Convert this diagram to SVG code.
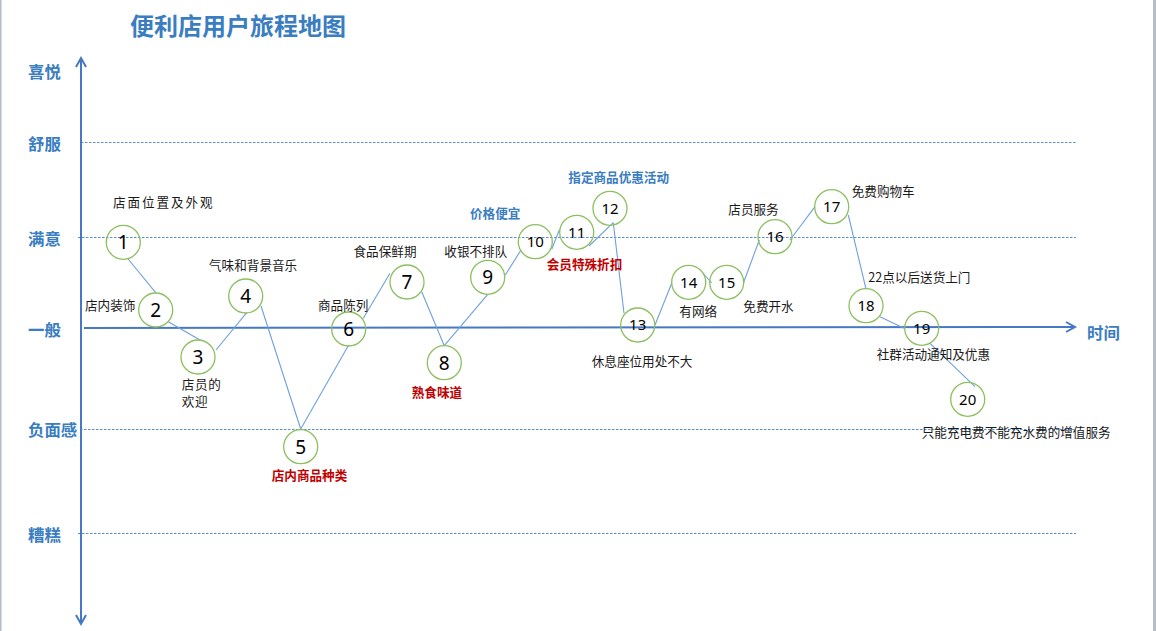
<svg xmlns="http://www.w3.org/2000/svg" width="1156" height="631" viewBox="0 0 1156 631">
<style>
.title{font-family:"Noto Sans CJK SC","Noto Sans",sans-serif;font-size:24px;font-weight:bold;fill:#3A7DC0}
.lvl{font-family:"Noto Sans CJK SC","Noto Sans",sans-serif;font-size:16.4px;font-weight:bold;fill:#3A7DC0}
.lbl{font-family:"Noto Sans CJK SC","Noto Sans",sans-serif;font-size:12.6px;fill:#1a1a1a}
.red{font-family:"Noto Sans CJK SC","Noto Sans",sans-serif;font-size:12.6px;font-weight:bold;fill:#C00000}
.blue{font-family:"Noto Sans CJK SC","Noto Sans",sans-serif;font-size:12.6px;font-weight:bold;fill:#3A7DC0}
.num{font-family:"Noto Sans","Liberation Sans",sans-serif;font-size:19px;fill:#000;text-anchor:middle}
.num2{font-family:"Noto Sans","Liberation Sans",sans-serif;font-size:15px;fill:#000;text-anchor:middle}
.node circle{fill:none;stroke:#8CBF5F;stroke-width:1.3}
.dash{stroke:#5A8FD2;stroke-width:1;stroke-dasharray:2.5 1.5;fill:none}
.axis{stroke:#4678C4;stroke-width:2;fill:none}
.conn line{stroke:#6FA0DC;stroke-width:1.1}
</style>
<rect x="0" y="0" width="1156" height="631" fill="#ffffff"/>
<rect x="0" y="0" width="1.5" height="631" fill="#B8BCC8"/>
<rect x="1153" y="0" width="3" height="631" fill="#B8BCC8"/>

<text class="title" x="130" y="35">便利店用户旅程地图</text>

<g id="levels">
<text class="lvl" x="28" y="78">喜悦</text>
<text class="lvl" x="28" y="150">舒服</text>
<text class="lvl" x="28" y="245">满意</text>
<text class="lvl" x="28" y="336">一般</text>
<text class="lvl" x="28" y="436">负面感</text>
<text class="lvl" x="28" y="541">糟糕</text>
</g>

<g id="gridlines">
<line class="dash" x1="81" y1="142.5" x2="1076" y2="142.5"/>
<line class="dash" x1="78" y1="237.5" x2="1076" y2="237.5"/>
<line class="dash" x1="80" y1="429.5" x2="1076" y2="429.5"/>
<line class="dash" x1="78" y1="533.5" x2="1076" y2="533.5"/>
</g>

<g id="axes">
<line class="axis" x1="81" y1="58" x2="81" y2="624"/>
<polyline class="axis" points="76,67 81,58 86,67"/>
<polyline class="axis" points="76,615 81,624 86,615"/>
<line class="axis" x1="84" y1="328" x2="1075" y2="327"/>
<polyline class="axis" points="1066,322 1075,327 1066,332"/>
<text class="lvl" x="1087" y="339">时间</text>
</g>

<g id="connectors" class="conn">
<line x1="127.7" y1="258.5" x2="155.7" y2="292.7"/>
<line x1="168.3" y1="321.7" x2="200" y2="340"/>
<line x1="216" y1="350" x2="246.7" y2="312.7"/>
<line x1="261" y1="306" x2="300.7" y2="429"/>
<line x1="300.7" y1="429" x2="348.7" y2="345"/>
<line x1="363.3" y1="318.3" x2="390" y2="273.3"/>
<line x1="421.7" y1="291.7" x2="444.3" y2="345.7"/>
<line x1="444.3" y1="345.7" x2="487.7" y2="294.3"/>
<line x1="505.3" y1="275" x2="521" y2="250"/>
<line x1="551.7" y1="249.3" x2="559.3" y2="230"/>
<line x1="589" y1="246" x2="613.3" y2="222.7"/>
<line x1="613.3" y1="222.7" x2="624" y2="313.3"/>
<line x1="655" y1="325" x2="671.7" y2="283.3"/>
<line x1="702" y1="272" x2="711.7" y2="283"/>
<line x1="743.3" y1="283.3" x2="759.3" y2="240"/>
<line x1="790" y1="240" x2="815" y2="206.7"/>
<line x1="848.3" y1="215" x2="866" y2="289"/>
<line x1="880" y1="316.7" x2="904" y2="328.3"/>
<line x1="930" y1="343.3" x2="975" y2="386.7"/>
</g>

<g id="node1" class="node"><circle cx="123.3" cy="242.3" r="17"/><text class="num" x="123.3" y="249.1">1</text></g>
<g id="node2" class="node"><circle cx="155.7" cy="310" r="17"/><text class="num" x="155.7" y="316.8">2</text></g>
<g id="node3" class="node"><circle cx="198" cy="357" r="17"/><text class="num" x="198" y="363.8">3</text></g>
<g id="node4" class="node"><circle cx="245.7" cy="296" r="17"/><text class="num" x="245.7" y="302.8">4</text></g>
<g id="node5" class="node"><circle cx="300.7" cy="446.7" r="17"/><text class="num" x="300.7" y="453.5">5</text></g>
<g id="node6" class="node"><circle cx="348.7" cy="329" r="17"/><text class="num" x="348.7" y="335.8">6</text></g>
<g id="node7" class="node"><circle cx="407" cy="282" r="17"/><text class="num" x="407" y="288.8">7</text></g>
<g id="node8" class="node"><circle cx="444.3" cy="362.7" r="17"/><text class="num" x="444.3" y="369.5">8</text></g>
<g id="node9" class="node"><circle cx="487.7" cy="277.3" r="17"/><text class="num" x="487.7" y="284.1">9</text></g>
<g id="node10" class="node"><circle cx="535.3" cy="241.7" r="17"/><text class="num2" x="535.3" y="247.1">10</text></g>
<g id="node11" class="node"><circle cx="576.7" cy="232.3" r="17"/><text class="num2" x="576.7" y="237.7">11</text></g>
<g id="node12" class="node"><circle cx="610" cy="208.3" r="17"/><text class="num2" x="610" y="213.7">12</text></g>
<g id="node13" class="node"><circle cx="637.7" cy="325" r="17"/><text class="num2" x="637.7" y="330.4">13</text></g>
<g id="node14" class="node"><circle cx="688.7" cy="282.3" r="17"/><text class="num2" x="688.7" y="287.7">14</text></g>
<g id="node15" class="node"><circle cx="726.7" cy="282.3" r="17"/><text class="num2" x="726.7" y="287.7">15</text></g>
<g id="node16" class="node"><circle cx="775" cy="236.7" r="17"/><text class="num2" x="775" y="242.1">16</text></g>
<g id="node17" class="node"><circle cx="831.7" cy="206.7" r="17"/><text class="num2" x="831.7" y="212.1">17</text></g>
<g id="node18" class="node"><circle cx="866" cy="305.7" r="17"/><text class="num2" x="866" y="311.1">18</text></g>
<g id="node19" class="node"><circle cx="921.7" cy="328.3" r="17"/><text class="num2" x="921.7" y="333.7">19</text></g>
<g id="node20" class="node"><circle cx="967.7" cy="399.3" r="17"/><text class="num2" x="967.7" y="404.7">20</text></g>

<g id="labels">
<text class="lbl" x="113" y="206.5" letter-spacing="1.9">店面位置及外观</text>
<text class="lbl" x="209" y="269.8">气味和背景音乐</text>
<text class="lbl" x="85" y="309.8">店内装饰</text>
<text class="lbl" x="318" y="309.8">商品陈列</text>
<text class="lbl" x="353.5" y="255.5">食品保鲜期</text>
<text class="lbl" x="181.7" y="389.2" font-size="11.6" letter-spacing="0.7">店员的</text>
<text class="lbl" x="181.7" y="406.2" font-size="11.6" letter-spacing="0.7">欢迎</text>
<text class="red" x="271.7" y="479.8">店内商品种类</text>
<text class="red" x="411.7" y="396.5">熟食味道</text>
<text class="lbl" x="444.3" y="255.5">收银不排队</text>
<text class="blue" x="470" y="218">价格便宜</text>
<text class="blue" x="568.3" y="182">指定商品优惠活动</text>
<text class="red" x="546.7" y="268.8">会员特殊折扣</text>
<text class="lbl" x="591.7" y="365.5">休息座位用处不大</text>
<text class="lbl" x="679.3" y="315.5">有网络</text>
<text class="lbl" x="743.3" y="310.5">免费开水</text>
<text class="lbl" x="728.3" y="214">店员服务</text>
<text class="lbl" x="851.7" y="195.8">免费购物车</text>
<text class="lbl" x="868.3" y="282">22点以后送货上门</text>
<text class="lbl" x="876.7" y="358.8">社群活动通知及优惠</text>
<text class="lbl" x="921.7" y="437">只能充电费不能充水费的增值服务</text>
</g>
</svg>
